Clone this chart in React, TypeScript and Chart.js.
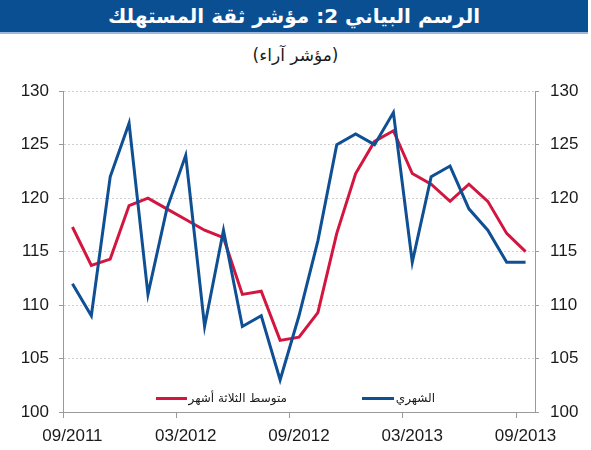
import React, { useEffect, useRef } from 'react';
import { Chart, registerables } from 'chart.js';

Chart.register(...registerables);

const months = [
  '09/2011', '10/2011', '11/2011', '12/2011', '01/2012', '02/2012', '03/2012',
  '04/2012', '05/2012', '06/2012', '07/2012', '08/2012', '09/2012',
  '10/2012', '11/2012', '12/2012', '01/2013', '02/2013', '03/2013',
  '04/2013', '05/2013', '06/2013', '07/2013', '08/2013', '09/2013',
];

const monthly = [112, 109, 122, 127, 111, 119, 124, 108, 117, 108, 109, 103, 109, 116, 125, 126, 125, 128, 114, 122, 123, 119, 117, 114, 114];

const threeMonthAvg = [117.3, 113.7, 114.3, 119.3, 120.0, 119.0, 118.0, 117.0, 116.3, 111.0, 111.3, 106.7, 107.0, 109.3, 116.7, 122.3, 125.3, 126.3, 122.3, 121.3, 119.7, 121.3, 119.7, 116.7, 115.0];

const yTicksMin = 100;
const yTicksMax = 130;
const yStep = 5;

const title = 'الرسم البياني 2: مؤشر ثقة المستهلك';
const subtitle = '(مؤشر آراء)';
const legendMonthly = 'الشهري';
const legendAvg = 'متوسط الثلاثة أشهر';

const BLUE = '#0f4f94';
const RED = '#d3163f';
const AXIS = '#9a9a9a';
const GRID = '#cfcfcf';
const TEXT = '#1a1a1a';
const TICK_FONT = { family: "'Liberation Sans', Arial, sans-serif", size: 17 };

export default function App() {
  const canvasRef = useRef<HTMLCanvasElement | null>(null);

  useEffect(() => {
    const canvas = canvasRef.current;
    if (!canvas) return;
    const chart = new Chart(canvas, {
      type: 'line',
      data: {
        labels: months,
        datasets: [
          {
            label: legendMonthly,
            data: monthly,
            borderColor: BLUE,
            borderWidth: 3,
            pointRadius: 0,
            tension: 0,
            fill: false,
            yAxisID: 'y',
          },
          {
            label: legendAvg,
            data: threeMonthAvg,
            borderColor: RED,
            borderWidth: 3,
            pointRadius: 0,
            tension: 0,
            fill: false,
            yAxisID: 'y',
          },
        ],
      },
      options: {
        animation: false,
        responsive: false,
        maintainAspectRatio: false,
        devicePixelRatio: 1,
        layout: { padding: { top: 14, bottom: 0, left: 0, right: 0 } },
        plugins: { legend: { display: false }, tooltip: { enabled: false } },
        scales: {
          x: {
            type: 'category',
            offset: true,
            grid: {
              offset: true,
              drawOnChartArea: false,
              tickLength: 6,
              tickWidth: 1,
              tickColor: (c: any) => (c.index % 6 === 0 ? AXIS : 'rgba(0,0,0,0)'),
            },
            border: { color: AXIS, width: 1 },
            ticks: {
              autoSkip: false,
              maxRotation: 0,
              minRotation: 0,
              padding: 8,
              color: TEXT,
              font: TICK_FONT,
              callback: (_v: any, i: number) => (i % 6 === 0 ? months[i] : ''),
            },
            afterFit: (s: any) => {
              s.height = 38;
            },
          },
          y: {
            position: 'left',
            min: yTicksMin,
            max: yTicksMax,
            ticks: { stepSize: yStep, padding: 10, color: TEXT, font: TICK_FONT },
            grid: {
              color: GRID,
              lineWidth: 1,
              tickLength: 4,
              tickColor: AXIS,
              tickBorderDash: [],
            },
            border: { color: AXIS, width: 1, dash: [2, 2] },
            afterFit: (s: any) => {
              s.width = 63;
            },
          },
          y2: {
            position: 'right',
            min: yTicksMin,
            max: yTicksMax,
            ticks: { stepSize: yStep, padding: 11, color: TEXT, font: TICK_FONT },
            grid: {
              drawOnChartArea: false,
              tickLength: 4,
              tickColor: AXIS,
              tickBorderDash: [],
            },
            border: { color: AXIS, width: 1 },
            afterFit: (s: any) => {
              s.width = 56;
            },
          },
        },
      },
    } as any);
    return () => chart.destroy();
  }, []);

  return (
    <div
      style={{
        position: 'absolute',
        left: 0,
        top: 0,
        width: 591,
        height: 450,
        background: '#fff',
        overflow: 'hidden',
        fontFamily: "'DejaVu Sans', 'Liberation Sans', Arial, sans-serif",
      }}
    >
      <div
        style={{
          position: 'absolute',
          left: 0,
          top: 0,
          width: 588,
          height: 32,
          background: '#0b4f93',
          borderBottom: '2px solid #9db8dc',
          color: '#fff',
          textAlign: 'center',
          fontWeight: 'bold',
          fontSize: 20,
          lineHeight: '32px',
          direction: 'rtl',
          whiteSpace: 'nowrap',
        }}
      >
        {title}
      </div>
      <div
        style={{
          position: 'absolute',
          left: 0,
          top: 43,
          width: 591,
          height: 24,
          textAlign: 'center',
          fontSize: 17,
          lineHeight: '24px',
          color: TEXT,
          direction: 'rtl',
        }}
      >
        {subtitle}
      </div>
      <div style={{ position: 'absolute', left: 0, top: 70, width: 591, height: 380 }}>
        <canvas ref={canvasRef} width={591} height={380} style={{ width: 591, height: 380, display: 'block' }} />
      </div>
      <div
        style={{
          position: 'absolute',
          right: 591 - 287,
          top: 388,
          height: 20,
          display: 'flex',
          alignItems: 'center',
          direction: 'ltr',
        }}
      >
        <div style={{ width: 31, height: 3, background: RED, marginRight: 2 }} />
        <span style={{ fontSize: 12, color: TEXT, direction: 'rtl' }}>{legendAvg}</span>
      </div>
      <div
        style={{
          position: 'absolute',
          right: 591 - 435,
          top: 388,
          height: 20,
          display: 'flex',
          alignItems: 'center',
          direction: 'ltr',
        }}
      >
        <div style={{ width: 32, height: 3, background: BLUE, marginRight: 2 }} />
        <span style={{ fontSize: 12, color: TEXT, direction: 'rtl' }}>{legendMonthly}</span>
      </div>
    </div>
  );
}
